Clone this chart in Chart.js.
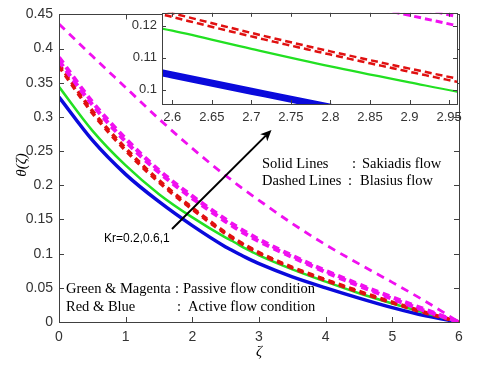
<!DOCTYPE html>
<html>
<head>
<meta charset="utf-8">
<script src="https://cdn.jsdelivr.net/npm/chart.js@4.4.1/dist/chart.umd.min.js"></script>
<style>
  body { margin: 0; background: #fff; }
  #wrap { position: relative; width: 480px; height: 367px; }
  #main { position: absolute; left: 0; top: 0; width: 480px; height: 367px; }
  #inset { position: absolute; left: 120px; top: 0; width: 350px; height: 125px; }
</style>
</head>
<body>
<div id="wrap">
  <canvas id="main" width="480" height="367"></canvas>
  <canvas id="inset" width="350" height="125"></canvas>
</div>
<script>
// values
const zeta = [0, 0.5, 1, 1.5, 2, 2.5, 2.6, 2.7, 2.8, 2.9, 3, 3.5, 4, 4.5, 5, 5.5, 6];

const blueSolid    = [0.329, 0.266, 0.216, 0.176, 0.141, 0.1098, 0.1046, 0.0995, 0.0945, 0.0898, 0.0853, 0.066, 0.050, 0.035, 0.021, 0.009, 0];
const greenSolid   = [0.344, 0.280, 0.229, 0.187, 0.153, 0.1235, 0.1185, 0.1128, 0.1073, 0.1023, 0.0975, 0.077, 0.059, 0.042, 0.027, 0.013, 0];
const redDashedA   = [0.377, 0.309, 0.254, 0.207, 0.167, 0.1305, 0.1240, 0.1178, 0.1120, 0.1066, 0.1015, 0.080, 0.062, 0.045, 0.029, 0.014, 0];
const redDashedB   = [0.374, 0.306, 0.251, 0.2045, 0.165, 0.1292, 0.1228, 0.1167, 0.1110, 0.1056, 0.1005, 0.079, 0.061, 0.044, 0.028, 0.013, 0];
const magDashedA   = [0.387, 0.322, 0.268, 0.222, 0.184, 0.150, 0.1435, 0.1374, 0.1316, 0.1262, 0.1208, 0.097, 0.075, 0.055, 0.036, 0.018, 0];
const magDashedB   = [0.382, 0.318, 0.264, 0.219, 0.181, 0.147, 0.1406, 0.1345, 0.1287, 0.1233, 0.1180, 0.095, 0.073, 0.053, 0.034, 0.016, 0];
const magDashedTop = [0.436, 0.389, 0.343, 0.297, 0.254, 0.214, 0.207, 0.199, 0.192, 0.185, 0.178, 0.144, 0.113, 0.085, 0.058, 0.030, 0];

const xTicks = [0, 1, 2, 3, 4, 5, 6];
const yTicks = [0, 0.05, 0.1, 0.15, 0.2, 0.25, 0.3, 0.35, 0.4, 0.45];
const insetXTicks = [2.6, 2.65, 2.7, 2.75, 2.8, 2.85, 2.9, 2.95];
const insetYTicks = [0.1, 0.11, 0.12];

const BLUE = "#0a0adc";
const GREEN = "#22e022";
const RED = "#e01010";
const MAGENTA = "#f010f0";
const AXIS = "#404040";
const TICKFONT = "Liberation Sans, Arial, sans-serif";
const SERIF = "Liberation Serif, Times New Roman, serif";

function line(values, color, width, dash) {
  return {
    data: zeta.map((z, i) => ({ x: z, y: values[i] })),
    borderColor: color,
    borderWidth: width,
    borderDash: dash || [],
    pointRadius: 0,
    fill: false,
    cubicInterpolationMode: "monotone",
  };
}

// box round the plot area, ticks pointing inwards
const boxPlugin = {
  id: "box",
  beforeDraw(chart, args, opts) {
    if (opts.fill) {
      const a = chart.chartArea;
      chart.ctx.save();
      chart.ctx.fillStyle = opts.fill;
      chart.ctx.fillRect(a.left, a.top, a.right - a.left, a.bottom - a.top);
      chart.ctx.restore();
    }
  },
  afterDraw(chart, args, opts) {
    const { ctx, chartArea: a, scales } = chart;
    const len = opts.len || 5;
    ctx.save();
    ctx.strokeStyle = AXIS;
    ctx.lineWidth = 1;
    ctx.strokeRect(Math.round(a.left) + 0.5, Math.round(a.top) + 0.5,
      Math.round(a.right - a.left), Math.round(a.bottom - a.top));
    ctx.beginPath();
    scales.x.ticks.forEach((t) => {
      const px = Math.round(scales.x.getPixelForValue(t.value)) + 0.5;
      ctx.moveTo(px, a.bottom); ctx.lineTo(px, a.bottom - len);
      ctx.moveTo(px, a.top); ctx.lineTo(px, a.top + len);
    });
    scales.y.ticks.forEach((t) => {
      const py = Math.round(scales.y.getPixelForValue(t.value)) + 0.5;
      ctx.moveTo(a.left, py); ctx.lineTo(a.left + len, py);
      ctx.moveTo(a.right, py); ctx.lineTo(a.right - len, py);
    });
    ctx.stroke();
    ctx.restore();
  },
};

// axis titles, notes and the arrow
const notesPlugin = {
  id: "notes",
  afterDraw(chart) {
    const ctx = chart.ctx;
    ctx.save();
    ctx.fillStyle = "#000";
    ctx.textBaseline = "alphabetic";

    ctx.font = "italic 15px " + SERIF;
    ctx.textAlign = "center";
    ctx.fillText("\u03b6", 259, 356);
    ctx.save();
    ctx.translate(26, 165);
    ctx.rotate(-Math.PI / 2);
    ctx.fillText("\u03b8(\u03b6)", 0, 0);
    ctx.restore();

    ctx.textAlign = "left";
    ctx.font = "14.5px " + SERIF;
    ctx.fillText("Solid Lines", 262, 168);
    ctx.fillText(":", 352, 168);
    ctx.fillText("Sakiadis flow", 362, 168);
    ctx.fillText("Dashed Lines", 262, 185);
    ctx.fillText(":", 348, 185);
    ctx.fillText("Blasius flow", 360, 185);

    ctx.fillText("Green & Magenta", 66, 293);
    ctx.fillText(":", 175, 293);
    ctx.fillText("Passive flow condition", 183, 293);
    ctx.fillText("Red & Blue", 66, 311);
    ctx.fillText(":", 177, 311);
    ctx.fillText("Active flow condition", 188, 311);

    ctx.font = "12px " + TICKFONT;
    ctx.fillText("Kr=0.2,0.6,1", 104, 242);

    // arrow
    const x0 = 172, y0 = 229, x1 = 271.5, y1 = 130;
    const L = Math.hypot(x1 - x0, y1 - y0);
    const dx = (x1 - x0) / L, dy = (y1 - y0) / L;
    const bx = x1 - dx * 11, by = y1 - dy * 11;
    ctx.strokeStyle = "#000";
    ctx.lineWidth = 2;
    ctx.beginPath();
    ctx.moveTo(x0, y0);
    ctx.lineTo(bx + dx * 3, by + dy * 3);
    ctx.stroke();
    ctx.beginPath();
    ctx.moveTo(x1, y1);
    ctx.lineTo(bx - dy * 5, by + dx * 5);
    ctx.lineTo(bx + dx * 3, by + dy * 3);
    ctx.lineTo(bx + dy * 5, by - dx * 5);
    ctx.closePath();
    ctx.fill();
    ctx.restore();
  },
};

function fixedTicks(list) {
  return (scale) => { scale.ticks = list.map((v) => ({ value: v })); };
}

new Chart(document.getElementById("main"), {
  type: "line",
  data: {
    datasets: [
      line(magDashedTop, MAGENTA, 2.8, [8, 6]),
      line(magDashedA, MAGENTA, 4, [7, 5]),
      line(magDashedB, MAGENTA, 4, [7, 5]),
      line(redDashedA, RED, 3.5, [6, 5]),
      line(redDashedB, RED, 3.5, [6, 5]),
      line(greenSolid, GREEN, 2.5),
      line(blueSolid, BLUE, 3.5),
    ],
  },
  options: {
    responsive: false,
    animation: false,
    events: [],
    layout: { padding: { top: 9, right: 21, left: 0, bottom: 0 } },
    plugins: { legend: { display: false }, tooltip: { enabled: false }, box: { len: 5 } },
    scales: {
      x: {
        type: "linear",
        min: 0,
        max: 6,
        afterBuildTicks: fixedTicks(xTicks),
        afterFit: (s) => { s.height = 45; },
        grid: { display: false, drawTicks: false },
        border: { display: false },
        ticks: { padding: 7, color: "#333", font: { family: TICKFONT, size: 14 }, callback: (v) => String(v) },
      },
      y: {
        min: 0,
        max: 0.45,
        afterBuildTicks: fixedTicks(yTicks),
        afterFit: (s) => { s.width = 59; },
        grid: { display: false, drawTicks: false },
        border: { display: false },
        ticks: { padding: 6, color: "#333", font: { family: TICKFONT, size: 14 }, callback: (v) => String(v) },
      },
    },
  },
  plugins: [boxPlugin, notesPlugin],
});

new Chart(document.getElementById("inset"), {
  type: "line",
  data: {
    datasets: [
      line(magDashedA, MAGENTA, 3, [7, 4]),
      line(magDashedB, MAGENTA, 3, [7, 4]),
      line(redDashedA, RED, 2.5, [7, 4]),
      line(redDashedB, RED, 2.5, [4, 4, 3, 0]),
      line(greenSolid, GREEN, 2.2),
      line(blueSolid, BLUE, 7),
    ],
  },
  options: {
    responsive: false,
    animation: false,
    events: [],
    layout: { padding: { top: 11, right: 13, left: 0, bottom: 0 } },
    plugins: { legend: { display: false }, tooltip: { enabled: false }, box: { len: 4, fill: "#fff" } },
    scales: {
      x: {
        type: "linear",
        min: 2.587,
        max: 2.96,
        afterBuildTicks: fixedTicks(insetXTicks),
        afterFit: (s) => { s.height = 21; },
        grid: { display: false, drawTicks: false },
        border: { display: false },
        ticks: { padding: 6, color: "#333", font: { family: TICKFONT, size: 13 }, callback: (v) => String(v) },
      },
      y: {
        min: 0.0955,
        max: 0.1241,
        afterBuildTicks: fixedTicks(insetYTicks),
        afterFit: (s) => { s.width = 42; },
        grid: { display: false, drawTicks: false },
        border: { display: false },
        ticks: { padding: 5, color: "#333", font: { family: TICKFONT, size: 13 }, callback: (v) => String(v) },
      },
    },
  },
  plugins: [boxPlugin],
});
</script>
</body>
</html>
